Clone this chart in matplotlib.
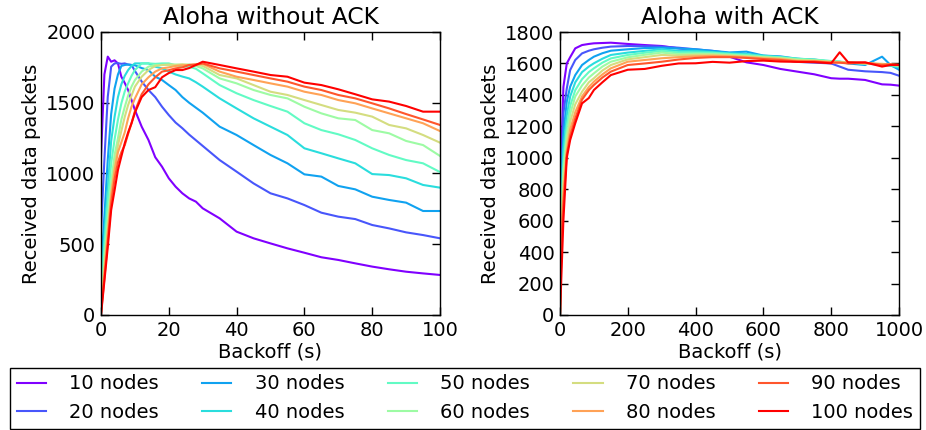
import matplotlib
matplotlib.use("Agg")
import matplotlib.pyplot as plt
import numpy as np

# node counts of every series
nodes = [10, 20, 30, 40, 50, 60, 70, 80, 90, 100]
labels = [f"{n} nodes" for n in nodes]

# Aloha without ACK: backoff (s) and received packets per node count
left_x = [0, 1, 2, 3, 4, 5, 6, 7, 8, 9, 10, 12, 14, 16, 18, 20, 22, 24, 26,
          28, 30, 35, 40, 45, 50, 55, 60, 65, 70, 75, 80, 85, 90, 95, 100]
left_10 = [1120, 1700, 1826, 1790, 1800, 1778, 1684, 1640, 1590, 1520,
           1449, 1331, 1237, 1115, 1048, 966, 907, 860, 824, 801,
           754, 683, 589, 542, 506, 471, 440, 408, 389, 365,
           342, 323, 306, 294, 283]
left_20 = [590, 1100, 1543, 1755, 1778, 1780, 1775, 1778, 1770, 1767,
           1725, 1650, 1590, 1540, 1472, 1413, 1360, 1320, 1275, 1235,
           1195, 1095, 1013, 930, 860, 824, 777, 723, 695, 678,
           636, 612, 584, 565, 542]
left_30 = [330, 700, 1100, 1420, 1600, 1700, 1760, 1767, 1770, 1767,
           1765, 1745, 1731, 1684, 1661, 1625, 1590, 1540, 1500, 1465,
           1430, 1331, 1272, 1201, 1131, 1072, 994, 978, 912, 888,
           836, 813, 794, 735, 735]
left_40 = [200, 550, 900, 1230, 1400, 1540, 1630, 1690, 1731, 1760,
           1778, 1778, 1778, 1755, 1743, 1720, 1700, 1685, 1672, 1645,
           1614, 1531, 1460, 1390, 1331, 1272, 1178, 1143, 1107, 1072,
           996, 989, 966, 919, 900]
left_50 = [100, 470, 800, 1070, 1240, 1380, 1495, 1580, 1637, 1690,
           1731, 1778, 1778, 1775, 1778, 1778, 1765, 1755, 1755, 1740,
           1708, 1625, 1567, 1519, 1477, 1437, 1355, 1307, 1277, 1237,
           1178, 1131, 1095, 1072, 1010]
left_60 = [60, 380, 680, 940, 1130, 1250, 1380, 1470, 1550, 1614,
           1660, 1720, 1755, 1767, 1767, 1767, 1770, 1767, 1770, 1760,
           1743, 1672, 1637, 1590, 1555, 1531, 1472, 1425, 1390, 1378,
           1307, 1284, 1230, 1201, 1124]
left_70 = [40, 330, 610, 870, 1060, 1200, 1300, 1400, 1484, 1550,
           1614, 1684, 1731, 1760, 1767, 1770, 1767, 1772, 1767, 1770,
           1760, 1696, 1672, 1625, 1578, 1555, 1519, 1484, 1449, 1430,
           1402, 1343, 1319, 1272, 1218]
left_80 = [20, 300, 580, 840, 1020, 1150, 1220, 1290, 1390, 1472,
           1530, 1630, 1680, 1720, 1743, 1750, 1760, 1765, 1767, 1770,
           1775, 1720, 1684, 1661, 1637, 1614, 1578, 1555, 1519, 1496,
           1460, 1425, 1390, 1355, 1300]
left_90 = [10, 260, 520, 790, 960, 1080, 1150, 1200, 1280, 1355,
           1440, 1560, 1630, 1680, 1720, 1730, 1743, 1750, 1767, 1770,
           1778, 1743, 1720, 1696, 1672, 1649, 1614, 1590, 1555, 1531,
           1496, 1460, 1420, 1382, 1343]
left_100 = [0, 240, 480, 742, 880, 1025, 1120, 1213, 1290, 1355,
            1430, 1540, 1590, 1610, 1680, 1710, 1731, 1731, 1745, 1767,
            1790, 1767, 1743, 1720, 1696, 1684, 1642, 1625, 1595, 1560,
            1524, 1508, 1477, 1437, 1437]

# Aloha with ACK
right_x = [0, 5, 10, 20, 30, 45, 65, 85, 100, 125, 150, 200, 250, 300, 350,
           400, 450, 500, 550, 600, 650, 700, 750, 800, 825, 850, 900, 950,
           975, 1000]
right_10 = [0, 1100, 1450, 1600, 1640, 1696, 1717, 1724, 1728, 1730,
            1732, 1724, 1717, 1711, 1696, 1681, 1668, 1643, 1607, 1590,
            1565, 1548, 1531, 1506, 1503, 1503, 1495, 1467, 1465, 1459]
right_20 = [0, 965, 1283, 1441, 1558, 1622, 1664, 1681, 1690, 1700,
            1707, 1711, 1710, 1707, 1700, 1690, 1680, 1665, 1650, 1640,
            1625, 1610, 1605, 1600, 1580, 1560, 1550, 1545, 1540, 1522]
right_30 = [0, 850, 1150, 1357, 1452, 1526, 1590, 1622, 1643, 1665,
            1681, 1690, 1698, 1700, 1695, 1690, 1680, 1670, 1675, 1650,
            1645, 1630, 1625, 1610, 1610, 1600, 1590, 1643, 1590, 1560]
right_40 = [0, 750, 1050, 1270, 1390, 1480, 1545, 1580, 1601, 1630,
            1654, 1669, 1680, 1690, 1680, 1680, 1672, 1665, 1660, 1650,
            1640, 1630, 1620, 1615, 1610, 1605, 1600, 1590, 1585, 1575]
right_50 = [0, 700, 950, 1200, 1330, 1430, 1500, 1545, 1569, 1605,
            1632, 1654, 1668, 1680, 1670, 1670, 1668, 1660, 1655, 1645,
            1640, 1630, 1625, 1615, 1612, 1605, 1600, 1595, 1590, 1580]
right_60 = [0, 650, 900, 1140, 1280, 1390, 1460, 1510, 1537, 1580,
            1611, 1639, 1655, 1669, 1660, 1662, 1660, 1655, 1648, 1640,
            1635, 1625, 1620, 1612, 1610, 1605, 1600, 1595, 1590, 1585]
right_70 = [0, 600, 820, 1090, 1230, 1340, 1420, 1480, 1506, 1555,
            1590, 1626, 1640, 1654, 1650, 1655, 1655, 1650, 1645, 1638,
            1632, 1622, 1618, 1610, 1608, 1605, 1600, 1598, 1592, 1588]
right_80 = [0, 550, 760, 1040, 1180, 1290, 1390, 1450, 1484, 1530,
            1569, 1611, 1622, 1633, 1640, 1645, 1648, 1645, 1640, 1632,
            1628, 1615, 1615, 1608, 1606, 1605, 1602, 1595, 1592, 1590]
right_90 = [0, 500, 700, 1020, 1140, 1250, 1370, 1430, 1463, 1510,
            1548, 1590, 1600, 1611, 1625, 1635, 1640, 1640, 1635, 1628,
            1622, 1612, 1612, 1605, 1605, 1600, 1605, 1590, 1595, 1592]
right_100 = [0, 300, 600, 1000, 1113, 1220, 1346, 1380, 1431, 1480,
             1526, 1560, 1565, 1585, 1600, 1601, 1610, 1605, 1615, 1618,
             1612, 1610, 1608, 1601, 1671, 1607, 1607, 1580, 1590, 1590]

left_series = [left_10, left_20, left_30, left_40, left_50,
               left_60, left_70, left_80, left_90, left_100]
right_series = [right_10, right_20, right_30, right_40, right_50,
                right_60, right_70, right_80, right_90, right_100]


def style_axis(ax, title: str, xmax: int, ymax: int, xstep: int,
               ystep: int) -> None:
    """Old-style matplotlib look: ticks inside on all four sides."""
    ax.set_title(title, fontsize=16.8, pad=6)
    ax.set_xlim(0, xmax)
    ax.set_ylim(0, ymax)
    ax.set_xticks(np.arange(0, xmax + 1, xstep))
    ax.set_yticks(np.arange(0, ymax + 1, ystep))
    ax.set_xlabel("Backoff (s)", fontsize=14, labelpad=2)
    ax.set_ylabel("Received data packets", fontsize=14)
    ax.tick_params(direction="in", top=True, right=True, length=5.5,
                   width=1, labelsize=14, pad=4)
    for spine in ax.spines.values():
        spine.set_linewidth(1)


def main():
    colors = plt.cm.rainbow(np.linspace(0, 1, len(nodes)))

    fig = plt.figure(figsize=(9.26, 4.3), dpi=100)
    ax_left = fig.add_axes([101 / 926, 115 / 430, 339 / 926, 283 / 430])
    ax_right = fig.add_axes([560 / 926, 115 / 430, 339 / 926, 283 / 430])

    handles = []
    for i in range(len(nodes)):
        line, = ax_left.plot(left_x, left_series[i], color=colors[i], lw=1.5)
        ax_right.plot(right_x, right_series[i], color=colors[i], lw=1.5)
        handles.append(line)

    style_axis(ax_left, "Aloha without ACK", 100, 2000, 20, 500)
    style_axis(ax_right, "Aloha with ACK", 1000, 1800, 200, 200)

    leg = fig.legend(handles, labels, ncol=5, loc="lower left",
                     bbox_to_anchor=(10 / 926, 1 / 430, 910 / 926, 0.1),
                     mode="expand", borderaxespad=0, fontsize=14,
                     handlelength=1.5, handletextpad=1.2,
                     labelspacing=0.5, borderpad=0.35, fancybox=False,
                     framealpha=1)
    leg.get_frame().set_edgecolor("black")
    leg.get_frame().set_linewidth(1)

    fig.savefig("out.png", dpi=100)


if __name__ == "__main__":
    main()
